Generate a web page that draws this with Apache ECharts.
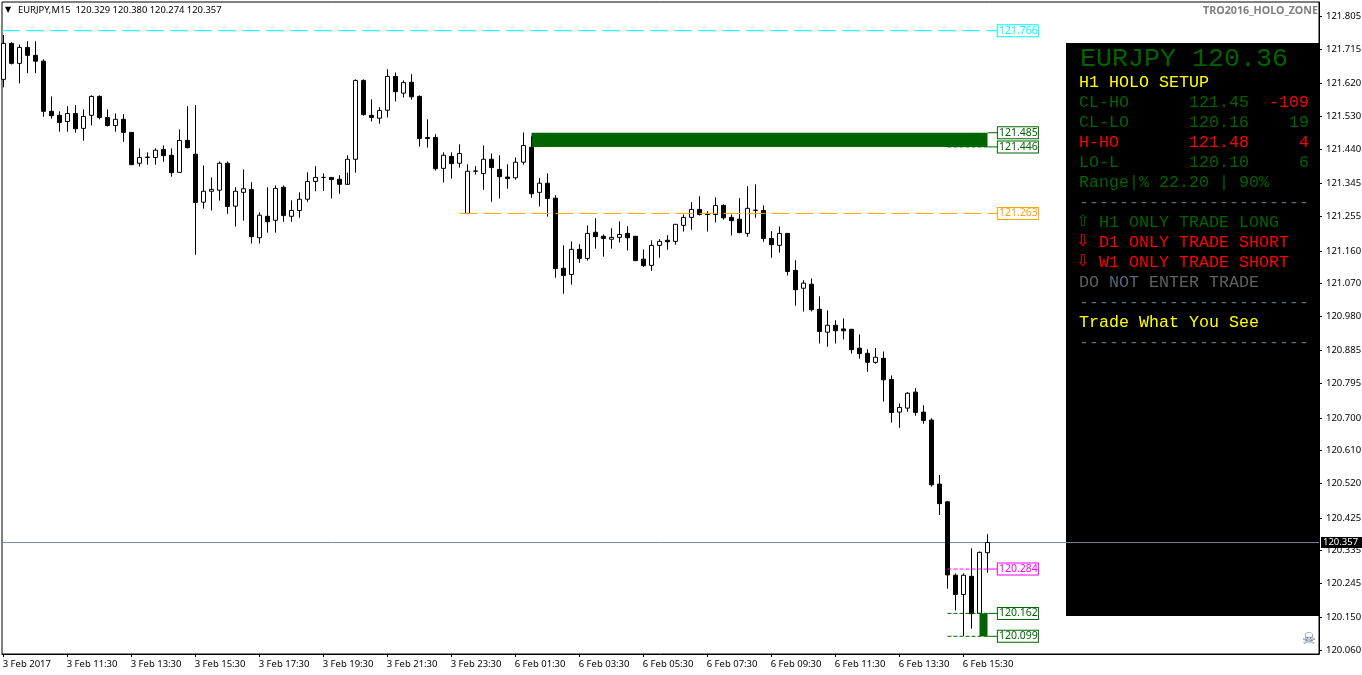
<!DOCTYPE html>
<html><head><meta charset="utf-8">
<style>html,body{margin:0;padding:0;background:#fff;overflow:hidden}#c{width:1362px;height:675px}</style>
<script src="https://cdn.jsdelivr.net/npm/echarts@6/dist/echarts.min.js"></script>
</head><body><div id="c"></div>
<script>
const opens=[
121.632,121.731,121.676,121.720,121.698,121.682,121.544,121.533,121.516,121.538,
121.497,121.533,121.585,121.527,121.505,121.522,121.486,121.401,121.417,121.417,
121.439,121.423,121.376,121.464,121.426,121.294,121.324,121.327,121.401,121.283,
121.321,121.329,121.196,121.255,121.244,121.335,121.255,121.271,121.302,121.351,
121.362,121.362,121.357,121.343,121.412,121.629,121.533,121.525,121.547,121.640,
121.594,121.624,121.585,121.472,121.472,121.387,121.420,121.401,121.263,121.379,
121.373,121.412,121.384,121.363,121.361,121.404,121.445,121.321,121.346,121.305,
121.112,121.095,121.164,121.139,121.211,121.200,121.192,121.197,121.208,121.200,
121.137,121.120,121.175,121.189,121.186,121.230,121.252,121.274,121.261,121.260,
121.285,121.252,121.247,121.208,121.272,121.271,121.194,121.175,121.208,121.106,
121.057,121.068,120.999,120.936,120.955,120.945,120.944,120.892,120.878,120.853,
120.864,120.806,120.716,120.727,120.771,120.716,120.694,120.518,120.469,120.267,
120.214,120.264,120.162,120.329];
const closes=[
121.731,121.676,121.720,121.698,121.682,121.544,121.532,121.513,121.538,121.496,
121.530,121.585,121.527,121.505,121.522,121.486,121.397,121.417,121.418,121.437,
121.422,121.375,121.464,121.444,121.293,121.324,121.329,121.401,121.282,121.324,
121.331,121.199,121.258,121.240,121.332,121.257,121.271,121.302,121.351,121.362,
121.362,121.356,121.343,121.412,121.629,121.535,121.527,121.546,121.640,121.598,
121.623,121.584,121.469,121.469,121.386,121.423,121.400,121.428,121.379,121.380,
121.412,121.389,121.364,121.359,121.404,121.450,121.317,121.346,121.304,121.111,
121.092,121.164,121.139,121.208,121.199,121.194,121.197,121.205,121.196,121.133,
121.119,121.175,121.186,121.185,121.233,121.252,121.274,121.260,121.260,121.285,
121.251,121.243,121.210,121.277,121.271,121.194,121.177,121.208,121.103,121.053,
121.071,120.998,120.938,120.955,120.940,120.940,120.888,120.877,120.853,120.867,
120.805,120.715,120.729,120.768,120.715,120.693,120.516,120.464,120.268,120.214,
120.267,120.161,120.330,120.357];
const lows=[
121.610,121.673,121.621,121.649,121.649,121.529,121.524,121.488,121.488,121.485,
121.463,121.505,121.522,121.502,121.488,121.460,121.397,121.392,121.397,121.397,
121.405,121.364,121.375,121.442,121.149,121.276,121.271,121.298,121.262,121.227,
121.243,121.180,121.180,121.210,121.210,121.240,121.240,121.251,121.295,121.324,
121.325,121.304,121.317,121.375,121.375,121.532,121.516,121.510,121.527,121.571,
121.582,121.576,121.447,121.444,121.381,121.348,121.359,121.389,121.263,121.370,
121.328,121.295,121.304,121.331,121.356,121.397,121.306,121.282,121.254,121.086,
121.042,121.067,121.127,121.133,121.166,121.144,121.166,121.183,121.161,121.133,
121.116,121.105,121.141,121.163,121.177,121.213,121.218,121.257,121.213,121.238,
121.246,121.202,121.210,121.199,121.251,121.185,121.141,121.155,121.092,121.009,
120.993,120.993,120.905,120.896,120.905,120.916,120.877,120.863,120.827,120.849,
120.745,120.687,120.673,120.717,120.706,120.684,120.511,120.433,120.230,120.170,
120.100,120.120,120.162,120.274];
const highs=[
121.754,121.734,121.728,121.737,121.737,121.687,121.585,121.544,121.558,121.561,
121.549,121.588,121.588,121.549,121.538,121.536,121.486,121.442,121.431,121.442,
121.450,121.442,121.494,121.558,121.561,121.395,121.362,121.406,121.406,121.335,
121.384,121.349,121.266,121.335,121.340,121.340,121.299,121.321,121.376,121.393,
121.373,121.362,121.368,121.423,121.632,121.632,121.577,121.555,121.660,121.651,
121.629,121.646,121.588,121.522,121.481,121.431,121.431,121.453,121.398,121.393,
121.450,121.428,121.423,121.398,121.417,121.486,121.475,121.360,121.373,121.313,
121.175,121.186,121.178,121.230,121.250,121.205,121.222,121.241,121.228,121.200,
121.164,121.189,121.192,121.203,121.233,121.260,121.294,121.310,121.269,121.307,
121.288,121.260,121.305,121.338,121.343,121.285,121.214,121.227,121.208,121.134,
121.079,121.084,121.035,120.996,120.969,120.974,120.944,120.930,120.889,120.892,
120.883,120.817,120.740,120.771,120.782,120.735,120.699,120.543,120.471,120.272,
120.272,120.341,120.332,120.380];
const priceTicks=['121.805','121.715','121.620','121.530','121.440','121.345','121.255','121.160','121.070','120.980','120.885','120.795','120.700','120.610','120.520','120.425','120.335','120.245','120.150','120.060'];
const timeTicks=['3 Feb 2017','3 Feb 11:30','3 Feb 13:30','3 Feb 15:30','3 Feb 17:30','3 Feb 19:30','3 Feb 21:30','3 Feb 23:30','6 Feb 01:30','6 Feb 03:30','6 Feb 05:30','6 Feb 07:30','6 Feb 09:30','6 Feb 11:30','6 Feb 13:30','6 Feb 15:30'];
const lastPrice=120.357;
const levels=[
 {p:'121.766',c:'#00ffff',from:-0.1875,dash:[18,6],solidFrom:null},
 {p:'121.485',c:'#006400',from:null,dash:null,solidFrom:123},
 {p:'121.446',c:'#006400',from:118,dash:[4,2],solidFrom:123},
 {p:'121.263',c:'#ffa500',from:57,dash:[18,6],solidFrom:null},
 {p:'120.284',c:'#ff00ff',from:118,dash:[4,2],solidFrom:123},
 {p:'120.162',c:'#006400',from:118,dash:[4,2],solidFrom:123},
 {p:'120.099',c:'#006400',from:118,dash:[4,2],solidFrom:123}
];
const zones=[[66,123,121.485,121.446],[122,123,120.162,120.099]];
const titleRow='EURJPY 120.36';
const panelRows=[
 [[0,'H1 HOLO SETUP','#ffff00']],
 [[0,'CL-HO','#006400'],[11,'121.45','#006400'],[19,'-109','#ff0000']],
 [[0,'CL-LO','#006400'],[11,'120.16','#006400'],[21,'19','#006400']],
 [[0,'H-HO','#ff0000'],[11,'121.48','#ff0000'],[22,'4','#ff0000']],
 [[0,'LO-L','#006400'],[11,'120.10','#006400'],[22,'6','#006400']],
 [[0,'Range|% 22.20 | 90%','#006400']],
 [[0,'-----------------------','#5f6a75']],
 [[2,'H1 ONLY TRADE LONG','#006400']],
 [[2,'D1 ONLY TRADE SHORT','#ff0000']],
 [[2,'W1 ONLY TRADE SHORT','#ff0000']],
 [[0,'DO','#606060'],[3,'NOT','#55657a'],[7,'ENTER TRADE','#606060']],
 [[0,'-----------------------','#5f6a75']],
 [[0,'Trade What You See','#ffff00']],
 [[0,'-----------------------','#5f6a75']]
];
const arrows=[[7,'\u21E7','#006400'],[8,'\u21E9','#ff0000'],[9,'\u21E9','#ff0000']];

const xMin=-0.1875,xMax=164.4375,yMin=120.0502,yMax=121.8449,labelAt=124.3;
const candleData=opens.map((o,i)=>[i,o,closes[i],lows[i],highs[i]]);
const series=[];
series.push({type:'line',z:1,silent:true,animation:false,showSymbol:false,symbol:'none',
 data:[[xMin,lastPrice],[xMax,lastPrice]],lineStyle:{color:'#778899',width:1},
 endLabel:{show:true,formatter:()=>lastPrice.toFixed(3),color:'#fff',backgroundColor:'#000',fontFamily:'Noto Sans',fontSize:9.5,width:39,height:11,lineHeight:11,padding:[0,0,0,2],align:'left',distance:2}});
series.push({type:'custom',z:3,silent:true,animation:false,clip:true,data:zones,
 encode:{x:[0,1],y:[2,3]},
 renderItem:(p,api)=>{const a=api.coord([api.value(0),api.value(2)]),b=api.coord([api.value(1),api.value(3)]);
  return {type:'rect',shape:{x:a[0],y:a[1],width:b[0]-a[0],height:b[1]-a[1]},style:{fill:'#006400'}};}});
series.push({type:'candlestick',z:5,silent:true,animation:false,barWidth:5,data:candleData,
 encode:{x:0,y:[1,2,3,4]},clip:true,
 itemStyle:{color:'#ffffff',color0:'#000000',borderColor:'#000000',borderColor0:'#000000',borderWidth:1}});
levels.forEach(l=>{
 const p=parseFloat(l.p);
 if(l.from!==null){
  series.push({type:'line',z:6,silent:true,animation:false,symbol:'none',showSymbol:false,
   data:[[l.from,p],[l.solidFrom===null?labelAt:l.solidFrom,p]],lineStyle:{color:l.c,width:1,type:l.dash}});
 }
 series.push({type:'line',z:7,silent:true,animation:false,symbol:'none',showSymbol:false,
   data:[[l.solidFrom===null?labelAt-0.01:l.solidFrom,p],[labelAt,p]],lineStyle:{color:l.c,width:1},
   endLabel:{show:true,formatter:()=>l.p,color:l.c,backgroundColor:'#fff',borderColor:l.c,borderWidth:1,fontFamily:'Noto Sans',fontSize:10.5,width:39,height:10,lineHeight:10,padding:[1,0,0,1],align:'left',distance:0}});
});
const mono='"Liberation Mono"';
const g=[{type:'rect',z:0,shape:{x:1066,y:43,width:253,height:573},style:{fill:'#000'}}];
g.push({type:'text',z:1,style:{text:titleRow,x:1080,y:59,fill:'#006400',font:'26.67px '+mono,textVerticalAlign:'middle'}});
panelRows.forEach((r,ri)=>r.forEach(t=>g.push({type:'text',z:1,style:{text:t[1],x:1079+10*t[0],y:83+20*ri,fill:t[2],font:'16.67px '+mono,textVerticalAlign:'middle'}})));
arrows.forEach(a=>g.push({type:'text',z:1,style:{text:a[1],x:1076,y:83+20*a[0]-1,fill:a[2],font:'16px "DejaVu Sans"',textVerticalAlign:'middle'}}));
g.push({type:'text',z:1,style:{text:'\u25BC',x:5,y:10,fill:'#000',font:'8px "DejaVu Sans"',textVerticalAlign:'middle'}});
g.push({type:'text',z:1,style:{text:'EURJPY,M15  120.329 120.380 120.274 120.357',x:18,y:10.5,fill:'#000',font:'9.4px "Noto Sans"',textVerticalAlign:'middle'}});
g.push({type:'text',z:1,style:{text:'TRO2016_HOLO_ZONE',x:1318,y:11,fill:'#808080',font:'bold 10.7px "Noto Sans"',textAlign:'right',textVerticalAlign:'middle'}});
g.push({type:'text',z:1,style:{text:'\u2620',x:1309,y:640,fill:'#5a6a7a',font:'16px "DejaVu Sans"',textAlign:'center',textVerticalAlign:'middle'}});

const chart=echarts.init(document.getElementById('c'),null,{renderer:'canvas'});
chart.setOption({
 animation:false,backgroundColor:'#fff',
 grid:{left:2,top:2,width:1317,height:652,outerBoundsMode:'none',show:true,borderColor:'#000',borderWidth:1,backgroundColor:'#fff'},
 tooltip:{show:false},legend:{show:false},
 xAxis:{type:'value',min:xMin,max:xMax,splitLine:{show:false},
  axisLine:{show:true,lineStyle:{color:'#000',width:1}},
  axisTick:{show:true,length:3,lineStyle:{color:'#000'},customValues:timeTicks.map((_,i)=>i*8)},
  axisLabel:{show:true,customValues:timeTicks.map((_,i)=>i*8-0.1),color:'#000',fontFamily:'Noto Sans',fontSize:9.5,margin:5,align:'left',hideOverlap:false,
   formatter:v=>timeTicks[Math.round(v/8)]||''}},
 yAxis:{type:'value',position:'right',min:yMin,max:yMax,scale:true,splitLine:{show:false},
  axisLine:{show:true,onZero:false,lineStyle:{color:'#000',width:1}},
  axisTick:{show:true,length:3,lineStyle:{color:'#000'},customValues:priceTicks.map(Number)},
  axisLabel:{show:true,customValues:priceTicks.map(Number),color:'#000',fontFamily:'Noto Sans',fontSize:9.5,margin:7,padding:[2,0,0,0],hideOverlap:false,
   formatter:v=>v.toFixed(3)}},
 graphic:{elements:g},
 series
});
</script></body></html>
